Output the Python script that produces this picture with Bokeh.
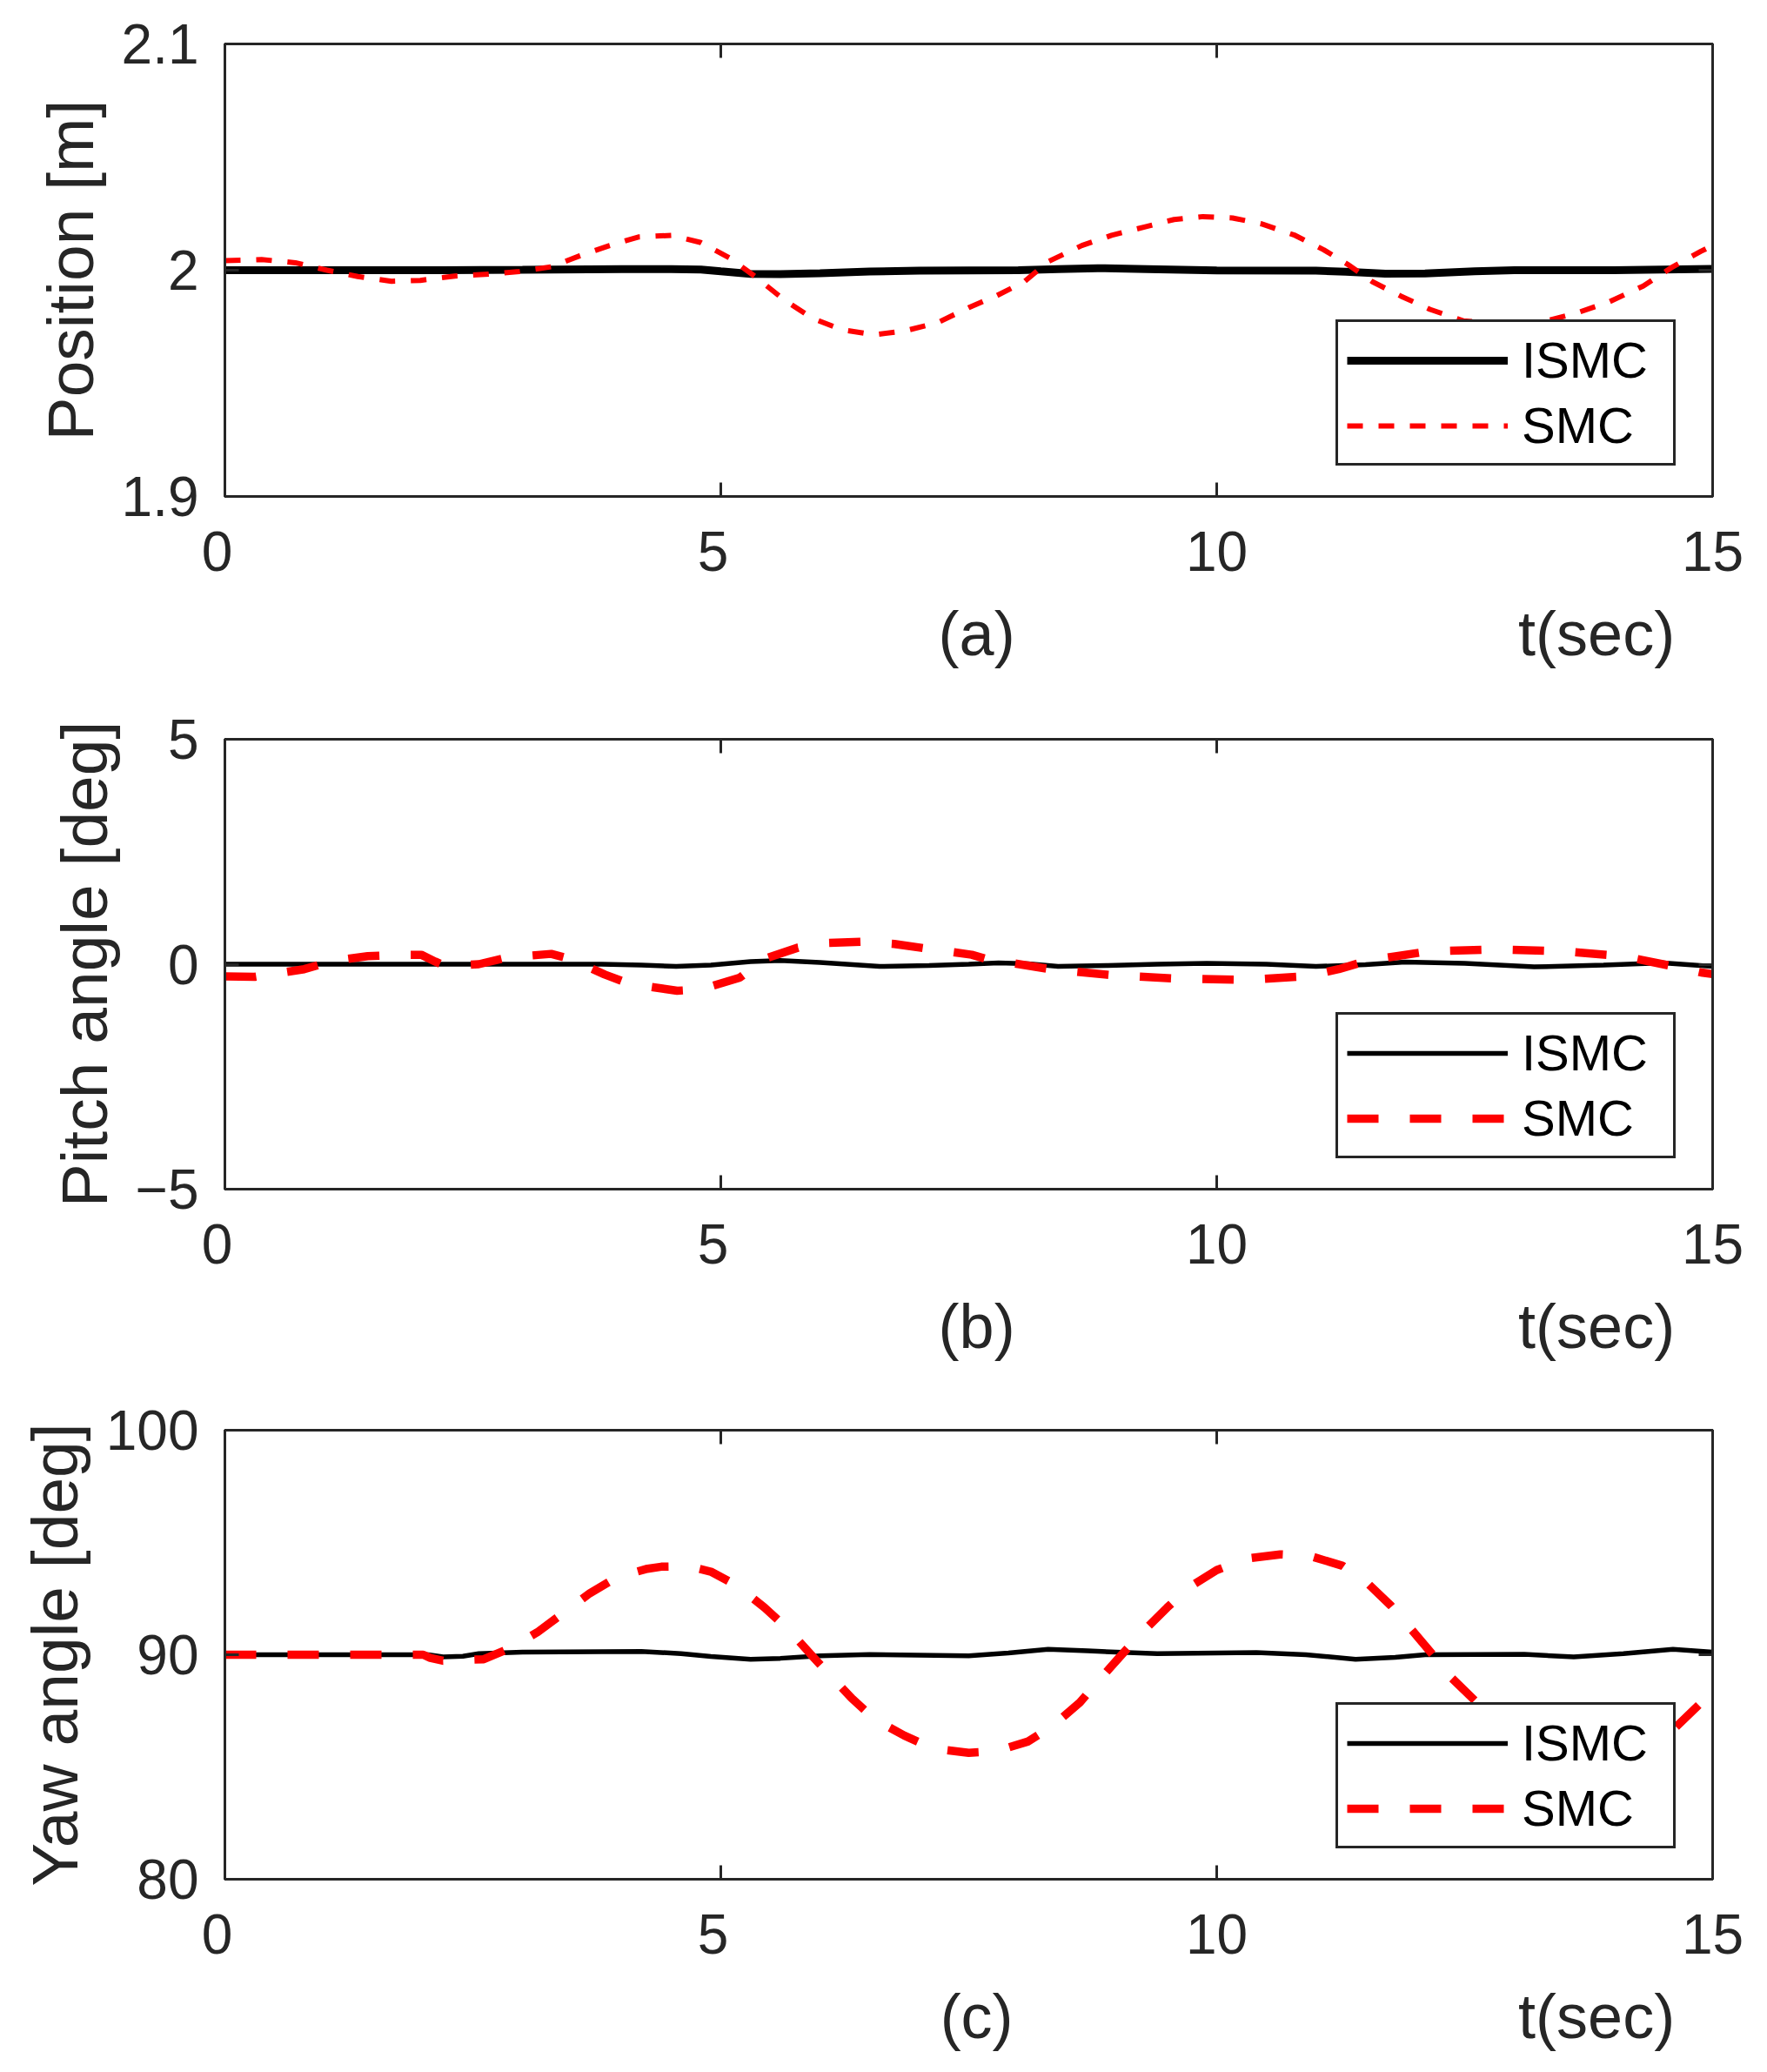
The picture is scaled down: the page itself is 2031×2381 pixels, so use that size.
from bokeh.plotting import figure
from bokeh.models import (Range1d, FixedTicker, LinearAxis, Legend, LegendItem,
                          CustomJSTickFormatter)
from bokeh.layouts import column
from bokeh.embed import file_html
from bokeh.resources import INLINE

FONT = "Liberation Sans"
INK = "#262626"

# ---- data ----
x_ticks = [0, 5, 10, 15]
caption_ticks = [7.58, 13.83]   # where "(a)" and "t(sec)" sit on the time axis

# (a) position [m]
pos_ticks = [1.9, 2.0, 2.1]
t_pos_ismc = [0, 2, 3, 4, 4.5, 4.8, 5.0, 5.3, 5.6, 6.0, 6.5, 7.0, 8.0, 8.4, 8.8, 9.3, 10.0,
              11.0, 11.3, 11.7, 12.1, 12.6, 13.0, 14.0, 15.0]
pos_ismc = [2.0, 2.0, 2.0002, 2.0005, 2.0005, 2.0003, 1.9995, 1.9984, 1.9983, 1.9987, 1.9994,
            1.9998, 2.0, 2.0005, 2.0009, 2.0005, 1.9999, 1.9998, 1.9993, 1.9985, 1.9986,
            1.9995, 2.0, 2.0, 2.0006]
t_pos_smc = [0.0, 0.37, 0.71, 1.03, 1.34, 1.68, 1.97, 2.32, 2.66, 2.97, 3.29, 3.58, 3.88, 4.17,
             4.51, 4.80, 5.10, 5.34, 5.63, 5.92, 6.22, 6.55, 6.85, 7.19, 7.50, 7.77, 8.06, 8.30,
             8.64, 8.94, 9.28, 9.57, 9.86, 10.16, 10.45, 10.79, 11.08, 11.32, 11.57, 11.86,
             12.15, 12.49, 12.83, 13.10, 13.32, 13.61, 13.95, 14.30, 14.59, 14.88, 15.0]
pos_smc = [2.0042, 2.0047, 2.0033, 2.0000, 1.9972, 1.9951, 1.9955, 1.9974, 1.9983, 1.9994,
           2.0015, 2.0064, 2.0109, 2.0147, 2.0154, 2.0122, 2.0051, 1.9974, 1.9872, 1.9788,
           1.9737, 1.9715, 1.9731, 1.9769, 1.9835, 1.9885, 1.9949, 2.0038, 2.0109, 2.0154,
           2.0192, 2.0224, 2.0237, 2.0231, 2.0205, 2.0154, 2.0090, 2.0026, 1.9949, 1.9885,
           1.9827, 1.9776, 1.9765, 1.9765, 1.9776, 1.9808, 1.9859, 1.9930, 2.0013, 2.0083,
           2.0109]

# (b) pitch angle [deg]
pitch_ticks = [-5, 0, 5]
t_pitch_ismc = [0, 3.8, 4.2, 4.55, 4.9, 5.3, 5.6, 6.0, 6.6, 7.1, 7.5, 7.8, 8.1, 8.4, 8.9,
                9.4, 9.9, 10.5, 11.0, 11.5, 11.9, 12.5, 13.2, 13.9, 14.5, 15.0]
pitch_ismc = [0.0, 0.0, -0.02, -0.05, -0.02, 0.06, 0.08, 0.04, -0.05, -0.03, 0.0, 0.03, 0.01,
              -0.05, -0.03, 0.0, 0.02, 0.0, -0.05, -0.01, 0.05, 0.02, -0.06, -0.02, 0.03,
              -0.05]
t_pitch_smc = [0.0, 0.3, 0.8, 1.1, 1.44, 1.78, 1.98, 2.12, 2.22, 2.56, 2.85, 3.29, 3.48, 3.83,
               4.07, 4.56, 4.8, 5.19, 5.44, 5.78, 6.07, 6.41, 6.75, 7.1, 7.53, 7.67, 8.32, 8.98,
               9.61, 10.27, 10.89, 11.23, 11.52, 12.15, 12.83, 13.47, 14.1, 14.74, 14.9, 15.0]
pitch_smc = [-0.27, -0.28, -0.11, 0.08, 0.18, 0.21, 0.21, 0.06, -0.04, 0.0, 0.15, 0.23, 0.12,
             -0.23, -0.43, -0.59, -0.56, -0.3, 0.12, 0.37, 0.47, 0.5, 0.45, 0.34, 0.21, 0.12,
             -0.11, -0.25, -0.32, -0.35, -0.27, -0.11, 0.08, 0.29, 0.33, 0.29, 0.18, -0.11,
             -0.19, -0.22]

# (c) yaw angle [deg]
yaw_ticks = [80, 90, 100]
t_yaw_ismc = [0, 2.05, 2.2, 2.4, 2.56, 3.0, 4.2, 4.6, 4.9, 5.3, 5.6, 6.0, 6.5, 7.5, 7.9,
              8.3, 8.7, 9.4, 10.4, 10.9, 11.4, 11.8, 12.1, 13.1, 13.6, 14.1, 14.6, 15.0]
yaw_ismc = [90.0, 90.0, 89.9, 89.93, 90.05, 90.12, 90.15, 90.05, 89.92, 89.8, 89.84, 89.95,
            90.01, 89.95, 90.08, 90.24, 90.17, 90.05, 90.1, 90.0, 89.8, 89.88, 90.0, 90.02,
            89.9, 90.05, 90.24, 90.12]
t_yaw_smc = [0.0, 2.0, 2.07, 2.2, 2.61, 2.85, 3.15, 3.41, 3.68, 3.95, 4.26, 4.4, 4.56, 4.73,
             4.9, 5.17, 5.44, 5.68, 5.9, 6.1, 6.32, 6.56, 6.85, 7.14, 7.5, 7.77, 8.1, 8.35,
             8.62, 8.82, 9.04, 9.25, 9.5, 9.72, 10.0, 10.3, 10.64, 10.93, 11.27, 11.52, 11.76,
             11.96, 12.18, 12.37, 12.64, 12.9, 13.3, 13.7, 14.1, 14.4, 14.63, 14.93, 15.0]
yaw_smc = [90.0, 90.0, 89.86, 89.73, 89.8, 90.24, 91.0, 91.85, 92.74, 93.45, 93.83, 93.92,
           93.93, 93.88, 93.7, 93.06, 92.1, 91.14, 90.05, 89.09, 88.06, 87.1, 86.4, 85.82,
           85.63, 85.7, 86.14, 86.85, 87.87, 88.9, 89.99, 91.0, 92.1, 93.0, 93.77, 94.28,
           94.47, 94.41, 93.96, 93.19, 92.17, 91.14, 89.99, 88.96, 87.8, 87.0, 86.1, 85.7,
           85.8, 86.25, 86.78, 88.06, 88.46]

yfmt = CustomJSTickFormatter(code="""
    const v = Math.round(tick * 1000) / 1000;
    return v < 0 ? '\\u2212' + Math.abs(v) : String(v);
""")
xfmt = CustomJSTickFormatter(code="""
    return tick < 10 ? String(tick) + '\\u00a0' : String(tick);
""")


def style_axis(ax, label_size="64px"):
    ax.axis_line_color = INK
    ax.axis_line_width = 3
    ax.major_tick_line_color = INK
    ax.major_tick_line_width = 3
    ax.major_tick_in = 16
    ax.major_tick_out = 0
    ax.minor_tick_line_color = None
    ax.major_label_text_font = FONT
    ax.major_label_text_font_size = label_size
    ax.major_label_text_color = INK
    ax.axis_label_text_font = FONT
    ax.axis_label_text_font_size = "75px"
    ax.axis_label_text_font_style = "normal"
    ax.axis_label_text_color = INK


def panel(ylabel, yticks, ts, ys, tag, top_b, frame_h, bottom, ismc_w, smc_w, smc_dash):
    y0, y1 = yticks[0], yticks[-1]
    p = figure(width=None, height=None, frame_width=1710, frame_height=frame_h,
               min_border_left=258, min_border_right=55, min_border_top=top_b,
               min_border_bottom=bottom, x_range=Range1d(0, 15), y_range=Range1d(y0, y1),
               toolbar_location=None, output_backend="svg")
    p.grid.visible = False
    p.outline_line_color = INK
    p.outline_line_width = 3
    p.outline_line_alpha = 1.0
    p.background_fill_color = "white"

    p.xaxis.ticker = FixedTicker(ticks=x_ticks)
    p.xaxis.formatter = xfmt
    p.yaxis.ticker = FixedTicker(ticks=yticks)
    p.yaxis.formatter = yfmt
    p.xaxis.major_label_standoff = 27
    p.yaxis.major_label_standoff = 30
    p.yaxis.axis_label = ylabel
    p.yaxis.axis_label_standoff = 14
    style_axis(p.xaxis[0])
    style_axis(p.yaxis[0])

    # inward ticks on the top and right edges (no labels)
    top = LinearAxis(ticker=FixedTicker(ticks=x_ticks), major_label_standoff=0)
    right = LinearAxis(ticker=FixedTicker(ticks=yticks), major_label_standoff=0)
    for ax in (top, right):
        style_axis(ax, "1px")
        ax.major_label_text_color = None
    p.add_layout(top, "above")
    p.add_layout(right, "right")

    # caption line under the time axis: "(a)" ... "t(sec)"
    cap = LinearAxis(ticker=FixedTicker(ticks=caption_ticks),
                     formatter=CustomJSTickFormatter(
                         code="return tick < 10 ? '%s' : 't(sec)';" % tag),
                     major_label_standoff=15)
    style_axis(cap, "72px")
    cap.axis_line_color = None
    cap.major_tick_line_color = None
    p.add_layout(cap, "below")

    r1 = p.line(ts[0], ys[0], line_color="black", line_width=ismc_w)
    r2 = p.line(ts[1], ys[1], line_color="#ff0000", line_width=smc_w, line_dash=smc_dash)

    legend = Legend(items=[LegendItem(label="ISMC", renderers=[r1]),
                           LegendItem(label="SMC", renderers=[r2])],
                    location=(1277, 35), margin=0, padding=10, spacing=8,
                    glyph_width=185, glyph_height=60, label_standoff=16, label_width=164,
                    label_text_font=FONT, label_text_font_size="58px",
                    label_text_color="black", border_line_color=INK, border_line_width=3,
                    border_line_alpha=1.0,
                    background_fill_color="white", background_fill_alpha=1.0)
    p.add_layout(legend)
    return p


pa = panel("Position [m]", pos_ticks, (t_pos_ismc, t_pos_smc), (pos_ismc, pos_smc),
           "(a)", 50, 520, 237, 9, 6, "18 18")
pb = panel("Pitch angle [deg]", pitch_ticks, (t_pitch_ismc, t_pitch_smc),
           (pitch_ismc, pitch_smc), "(b)", 42, 517, 235, 5.5, 9.5, "36 36")
pc = panel("Yaw angle [deg]", yaw_ticks, (t_yaw_ismc, t_yaw_smc), (yaw_ismc, yaw_smc),
           "(c)", 42, 516, 205, 5.5, 9.5, "36 36")

layout = column(pa, pb, pc, spacing=0)
open("out.html", "w").write(file_html(layout, INLINE))
